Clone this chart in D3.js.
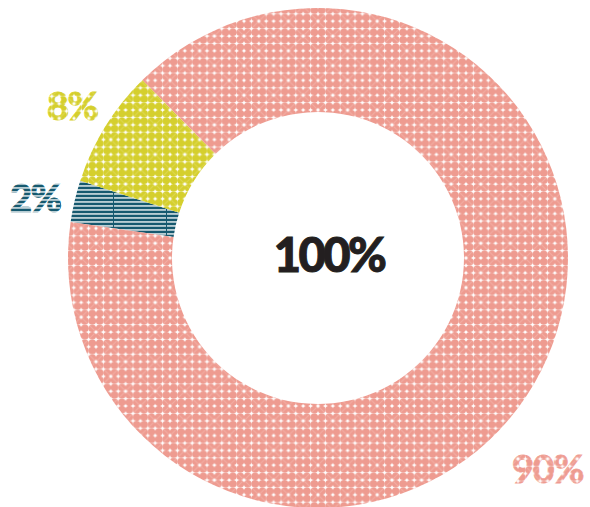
<!DOCTYPE html>
<html>
<head>
<meta charset="utf-8">
<script src="https://cdn.jsdelivr.net/npm/d3@7"></script>
<style>
  body { margin: 0; background: #fff; }
  svg { display: block; }
</style>
</head>
<body>
<svg width="590" height="507"></svg>
<script>
const svg = d3.select("svg"),
      width = +svg.attr("width"),
      height = +svg.attr("height");

// data (clockwise from the left)
const labels = ["2%", "8%", "90%"];
const values = [2.7, 7.6, 89.7]; // slice sizes as drawn
const colors = ["#16596f", "#d5cf2d", "#ee9b90"];
const total = "100%";

const cx = 318, cy = 258;
const outerR = 250, innerR = 146;

const defs = svg.append("defs");

// dotted fill: touching circles leave little white stars between them,
// with a faint diagonal lattice on top
const dots = (id, color) => {
  const s = 7.4, n = 4, w = s * n;
  const p = defs.append("pattern")
    .attr("id", id)
    .attr("patternUnits", "userSpaceOnUse")
    .attr("width", w).attr("height", w);
  p.append("rect").attr("width", w).attr("height", w).attr("fill", "#fff");
  d3.range(n * n).forEach(k => {
    p.append("circle")
      .attr("cx", (k % n) * s + s / 2)
      .attr("cy", Math.floor(k / n) * s + s / 2)
      .attr("r", s * 0.515)
      .attr("fill", color);
  });
  p.append("path")
    .attr("d", `M0,0L${w},${w}M${w},0L0,${w}`)
    .attr("stroke", "#fff")
    .attr("stroke-opacity", 0.18)
    .attr("stroke-width", 1);
};
dots("dots-pink", colors[2]);
dots("dots-yellow", colors[1]);

// striped fill for the small slice
const stripes = defs.append("pattern")
  .attr("id", "stripes")
  .attr("patternUnits", "userSpaceOnUse")
  .attr("width", 53).attr("height", 4)
  .attr("patternTransform", "translate(8,0)");
stripes.append("rect").attr("width", 53).attr("height", 4).attr("fill", "#fff");
stripes.append("rect").attr("y", 0.6).attr("width", 53).attr("height", 2.7).attr("fill", colors[0]);
stripes.append("rect").attr("x", 52).attr("width", 1.2).attr("height", 4).attr("fill", colors[0]);

const fills = ["url(#stripes)", "url(#dots-yellow)", "url(#dots-pink)"];

const start = -81.7 * Math.PI / 180;
const pie = d3.pie()
  .sort(null)
  .startAngle(start)
  .endAngle(start + 2 * Math.PI);

const arc = d3.arc().innerRadius(innerR).outerRadius(outerR);

const g = svg.append("g");

g.selectAll("path.slice")
  .data(pie(values))
  .enter()
  .append("path")
  .attr("class", "slice")
  .attr("transform", `translate(${cx},${cy})`)
  .attr("d", arc)
  .attr("fill", (d, i) => fills[i]);

// slice labels, filled with the same patterns
const labelPos = [
  { x: 10, y: 212, anchor: "start" },
  { x: 47, y: 120, anchor: "start" },
  { x: 583, y: 483, anchor: "end" }
];

g.selectAll("text.label")
  .data(labels)
  .enter()
  .append("text")
  .attr("class", "label")
  .attr("x", (d, i) => labelPos[i].x)
  .attr("y", (d, i) => labelPos[i].y)
  .attr("text-anchor", (d, i) => labelPos[i].anchor)
  .attr("font-family", "Lato, sans-serif")
  .attr("font-weight", 900)
  .attr("font-size", 38)
  .attr("letter-spacing", -1.5)
  .attr("fill", (d, i) => fills[i])
  .attr("stroke", (d, i) => fills[i])
  .attr("stroke-width", 0.8)
  .text(d => d);

g.append("text")
  .attr("x", 329)
  .attr("y", 272)
  .attr("text-anchor", "middle")
  .attr("font-family", "Lato, sans-serif")
  .attr("font-weight", 900)
  .attr("font-size", 47)
  .attr("letter-spacing", -2.5)
  .attr("fill", "#231f20")
  .attr("stroke", "#231f20")
  .attr("stroke-width", 1)
  .text(total);
</script>
</body>
</html>
